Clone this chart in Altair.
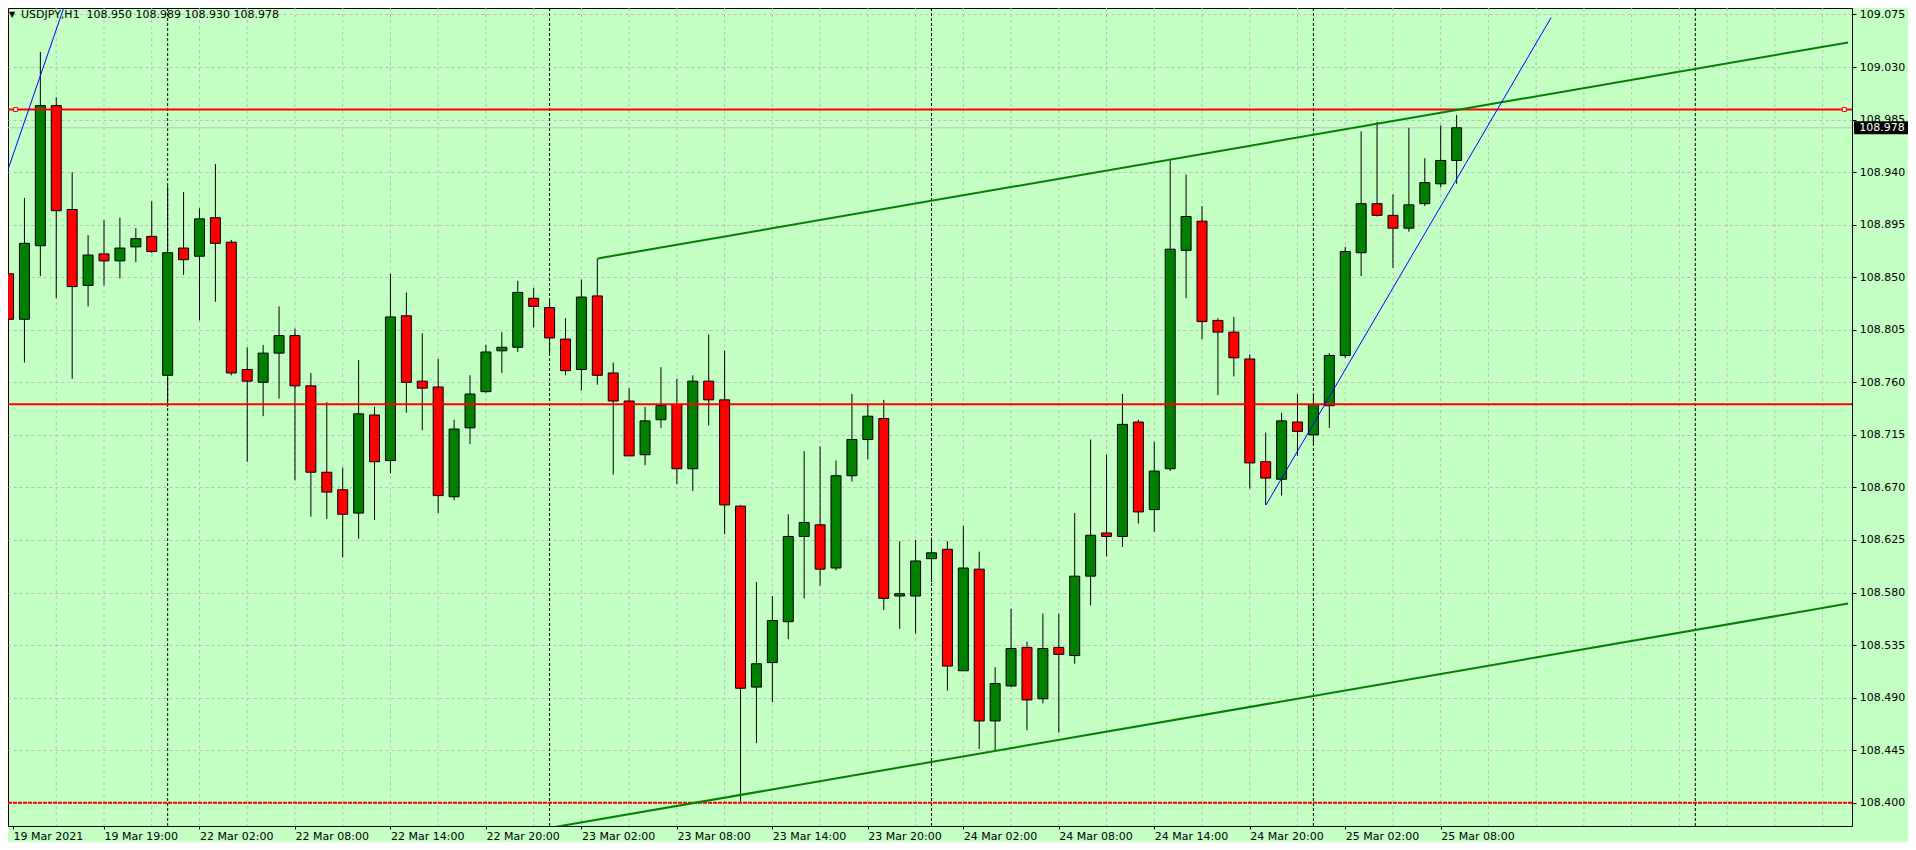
import json
import altair as alt
import pandas as pd

# ---------------- data ----------------
symbol = "USDJPY"
timeframe = "H1"

opens = [108.853, 108.814, 108.877, 108.997, 108.908, 108.843, 108.870, 108.864, 108.876, 108.885,
         108.766, 108.875, 108.868, 108.901, 108.880, 108.771, 108.760, 108.785, 108.800, 108.757,
         108.683, 108.668, 108.648, 108.732, 108.693, 108.817, 108.761, 108.756, 108.662, 108.721,
         108.752, 108.787, 108.790, 108.832, 108.824, 108.797, 108.771, 108.834, 108.768, 108.744,
         108.698, 108.728, 108.741, 108.686, 108.761, 108.745, 108.654, 108.499, 108.520, 108.555,
         108.628, 108.638, 108.601, 108.680, 108.711, 108.729, 108.577, 108.577, 108.609, 108.617,
         108.513, 108.600, 108.470, 108.500, 108.533, 108.489, 108.533, 108.526, 108.594, 108.631,
         108.628, 108.726, 108.651, 108.686, 108.873, 108.898, 108.813, 108.803, 108.780, 108.692,
         108.677, 108.726, 108.715, 108.740, 108.783, 108.871, 108.913, 108.903, 108.892, 108.913,
         108.930, 108.950]
highs = [108.919, 108.918, 109.043, 109.004, 108.940, 108.886, 108.899, 108.901, 108.892, 108.915,
         108.928, 108.923, 108.909, 108.947, 108.882, 108.790, 108.792, 108.825, 108.806, 108.768,
         108.743, 108.687, 108.779, 108.739, 108.853, 108.837, 108.802, 108.780, 108.728, 108.766,
         108.792, 108.803, 108.847, 108.841, 108.831, 108.815, 108.848, 108.866, 108.777, 108.755,
         108.739, 108.773, 108.763, 108.766, 108.801, 108.787, 108.655, 108.589, 108.577, 108.647,
         108.701, 108.705, 108.693, 108.750, 108.741, 108.745, 108.624, 108.625, 108.627, 108.624,
         108.637, 108.615, 108.516, 108.566, 108.538, 108.562, 108.562, 108.648, 108.711, 108.698,
         108.750, 108.728, 108.709, 108.950, 108.938, 108.911, 108.815, 108.816, 108.784, 108.717,
         108.734, 108.750, 108.750, 108.785, 108.876, 108.975, 108.983, 108.921, 108.978, 108.952,
         108.980, 108.989]
lows = [108.737, 108.777, 108.851, 108.832, 108.763, 108.825, 108.843, 108.849, 108.863, 108.871,
        108.739, 108.852, 108.813, 108.829, 108.766, 108.692, 108.731, 108.746, 108.676, 108.645,
        108.643, 108.610, 108.626, 108.642, 108.682, 108.734, 108.719, 108.648, 108.659, 108.707,
        108.751, 108.768, 108.786, 108.807, 108.783, 108.766, 108.753, 108.758, 108.681, 108.697,
        108.689, 108.721, 108.673, 108.667, 108.723, 108.630, 108.401, 108.451, 108.486, 108.540,
        108.575, 108.586, 108.599, 108.675, 108.694, 108.565, 108.549, 108.545, 108.589, 108.496,
        108.513, 108.446, 108.445, 108.499, 108.462, 108.485, 108.460, 108.519, 108.569, 108.611,
        108.619, 108.639, 108.632, 108.684, 108.832, 108.797, 108.749, 108.765, 108.669, 108.655,
        108.663, 108.697, 108.706, 108.721, 108.781, 108.851, 108.902, 108.858, 108.889, 108.911,
        108.927, 108.930]
closes = [108.814, 108.879, 108.997, 108.907, 108.842, 108.869, 108.864, 108.875, 108.883, 108.872,
          108.871, 108.865, 108.900, 108.879, 108.768, 108.761, 108.785, 108.800, 108.757, 108.683,
          108.666, 108.647, 108.733, 108.692, 108.816, 108.760, 108.755, 108.663, 108.720, 108.750,
          108.786, 108.790, 108.837, 108.825, 108.798, 108.770, 108.833, 108.766, 108.744, 108.697,
          108.727, 108.740, 108.686, 108.761, 108.745, 108.655, 108.498, 108.519, 108.556, 108.628,
          108.640, 108.600, 108.680, 108.711, 108.731, 108.575, 108.579, 108.607, 108.614, 108.517,
          108.601, 108.470, 108.502, 108.532, 108.488, 108.532, 108.527, 108.594, 108.629, 108.628,
          108.724, 108.649, 108.684, 108.874, 108.902, 108.812, 108.803, 108.781, 108.691, 108.678,
          108.727, 108.718, 108.741, 108.783, 108.872, 108.913, 108.903, 108.892, 108.912, 108.931,
          108.950, 108.978]

# time axis (bar index -> label)
tick_bars = [0, 6, 12, 18, 24, 30, 36, 42, 48, 54, 60, 66, 72, 78, 84, 90]
tick_labels = ["19 Mar 2021", "19 Mar 19:00", "22 Mar 02:00", "22 Mar 08:00", "22 Mar 14:00",
               "22 Mar 20:00", "23 Mar 02:00", "23 Mar 08:00", "23 Mar 14:00", "23 Mar 20:00",
               "24 Mar 02:00", "24 Mar 08:00", "24 Mar 14:00", "24 Mar 20:00", "25 Mar 02:00",
               "25 Mar 08:00"]
grid_bars = list(range(3, 115, 3))
day_separator_bars = [10, 34, 58, 82, 106]

price_ticks = [108.400, 108.445, 108.490, 108.535, 108.580, 108.625, 108.670, 108.715,
               108.760, 108.805, 108.850, 108.895, 108.940, 108.985, 109.030, 109.075]

# chart objects
red_levels = [108.9936, 108.7413]
red_dashed_levels = [108.400]
bid_price = 108.978
level_anchor_bars = [0.45, 115.36]

channel_names = ["upper", "upper", "lower", "lower"]
channel_bars = [37.02, 115.6, 30.0, 115.6]
channel_prices = [108.8661, 109.0511, 108.3690, 108.5705]

trend_names = ["t1", "t1", "t2", "t2"]
trend_bars = [-0.04, 3.44, 79.02, 96.94]
trend_prices = [108.942, 109.0795, 108.6549, 109.0724]

# ---------------- frames ----------------
candles = pd.DataFrame({"bar": list(range(len(opens))), "open": opens, "high": highs,
                        "low": lows, "close": closes})
candles["dir"] = ["up" if c >= o else "down" for o, c in zip(opens, closes)]

grid_df = pd.DataFrame({"bar": grid_bars})
sep_df = pd.DataFrame({"bar": day_separator_bars})
red_df = pd.DataFrame({"price": red_levels})
red_dash_df = pd.DataFrame({"price": red_dashed_levels})
bid_df = pd.DataFrame({"price": [bid_price], "label": [f"{bid_price:.3f}"]})
anchor_df = pd.DataFrame({"bar": level_anchor_bars, "price": [red_levels[0]] * len(level_anchor_bars)})
channel_df = pd.DataFrame({"line": channel_names, "bar": channel_bars, "price": channel_prices})
trend_df = pd.DataFrame({"line": trend_names, "bar": trend_bars, "price": trend_prices})
title_df = pd.DataFrame({"label": [f"{symbol},{timeframe} \u00a0{opens[-1]:.3f} {highs[-1]:.3f} "
                                   f"{lows[-1]:.3f} {closes[-1]:.3f}"], "tri": ["\u25BC"]})

# ---------------- scales / axes ----------------
W, H = 1844, 818
BAR_PX = 16.0
PX_PER_PRICE = 1167.7
x_min = 4.5 / BAR_PX
x_max = x_min + W / BAR_PX
y_max = 109.075 + 6.5 / PX_PER_PRICE
y_min = y_max - H / PX_PER_PRICE

FONT = "DejaVu Sans"
BG = "#C4FFC4"
GRID = "#c3b9c3"

xscale = alt.Scale(domain=[x_min, x_max], nice=False, zero=False)
yscale = alt.Scale(domain=[y_min, y_max], nice=False, zero=False)

x_tick_values = [x_min] + tick_bars[1:]
xaxis = alt.Axis(values=x_tick_values, labelExpr=f"{json.dumps(tick_labels)}[round(datum.value / 6)]",
                 title=None, grid=False, domain=False, tickColor="black", tickSize=3,
                 labelFont=FONT, labelFontSize=11, labelColor="black", labelAlign="left",
                 labelBaseline="alphabetic", labelPadding=10, labelFlush=False,
                 labelOverlap=False, labelBound=False)
yaxis = alt.Axis(values=price_ticks, format=".3f", orient="right", title=None, grid=True,
                 gridColor=GRID, gridDash=[3, 3], gridWidth=1, domain=False, tickColor="black",
                 tickSize=4, labelPadding=3.3, labelFont=FONT, labelFontSize=11,
                 labelColor="black", labelBaseline="middle", labelOverlap=False,
                 labelFlush=False, labelBound=False)


def X(field="bar"):
    return alt.X(f"{field}:Q", scale=xscale, axis=xaxis)


def Y(field="price"):
    return alt.Y(f"{field}:Q", scale=yscale, axis=yaxis)


base_c = alt.Chart(candles)

grid_layer = alt.Chart(grid_df).mark_rule(color=GRID, strokeWidth=1, strokeDash=[3, 3]).encode(x=X())
sep_layer = alt.Chart(sep_df).mark_rule(color="black", strokeWidth=1, strokeDash=[3, 2]).encode(x=X())
bid_layer = alt.Chart(bid_df).mark_rule(color="#c0c0c0", strokeWidth=1).encode(y=Y())

wicks = base_c.mark_rule(color="black", strokeWidth=1, clip=True).encode(
    x=X(), y=Y("low"), y2=alt.Y2("high"))
bodies = base_c.mark_bar(size=10, stroke="black", strokeWidth=1, clip=True).encode(
    x=X(), y=Y("open"), y2=alt.Y2("close"),
    color=alt.Color("dir:N", scale=alt.Scale(domain=["up", "down"], range=["#008000", "#FF0000"]),
                    legend=None))

red_layer = alt.Chart(red_df).mark_rule(color="#FF0000", strokeWidth=2).encode(y=Y())
red_dash_layer = alt.Chart(red_dash_df).mark_rule(color="#FF0000", strokeWidth=2,
                                                  strokeDash=[4, 1]).encode(y=Y())

channel_layer = alt.Chart(channel_df).mark_line(color="#008000", strokeWidth=2, clip=True).encode(
    x=X(), y=Y(), detail="line:N")
trend_layer = alt.Chart(trend_df).mark_line(color="#0000FF", strokeWidth=1, clip=True).encode(
    x=X(), y=Y(), detail="line:N")

anchor_layer = alt.Chart(anchor_df).mark_square(size=16, filled=True, color="white",
                                                stroke="#FF0000", strokeWidth=1, opacity=1).encode(
    x=X(), y=Y())

title_layer = alt.Chart(title_df).mark_text(align="left", baseline="middle", font=FONT,
                                            fontSize=11, color="black").encode(
    x=alt.value(13), y=alt.value(7), text="label:N")
tri_layer = alt.Chart(title_df).mark_text(align="center", baseline="middle", font=FONT,
                                          fontSize=8, color="black").encode(
    x=alt.value(4), y=alt.value(7), text="tri:N")

box_shape = "M-1,-0.24L1,-0.24L1,0.24L-1,0.24Z"
box_layer = alt.Chart(bid_df).mark_point(shape=box_shape, size=54 ** 2, filled=True,
                                         color="black", opacity=1).encode(
    x=alt.value(1873), y=Y())
box_text = alt.Chart(bid_df).mark_text(align="left", baseline="middle", font=FONT, fontSize=11,
                                       color="white").encode(
    x=alt.value(1851.3), y=Y(), text="label:N")

chart = alt.layer(
    grid_layer, sep_layer, bid_layer, wicks, bodies, red_layer, red_dash_layer,
    channel_layer, trend_layer, anchor_layer, title_layer, tri_layer, box_layer, box_text
).properties(
    width=W, height=H, background=BG,
    autosize=alt.AutoSizeParams(type="none"),
    padding={"left": 0, "top": 0, "right": 56, "bottom": 16},
).configure_view(stroke="black", strokeWidth=1, fill=BG)

chart.save("out.html", embed_options={"renderer": "svg", "actions": False})
